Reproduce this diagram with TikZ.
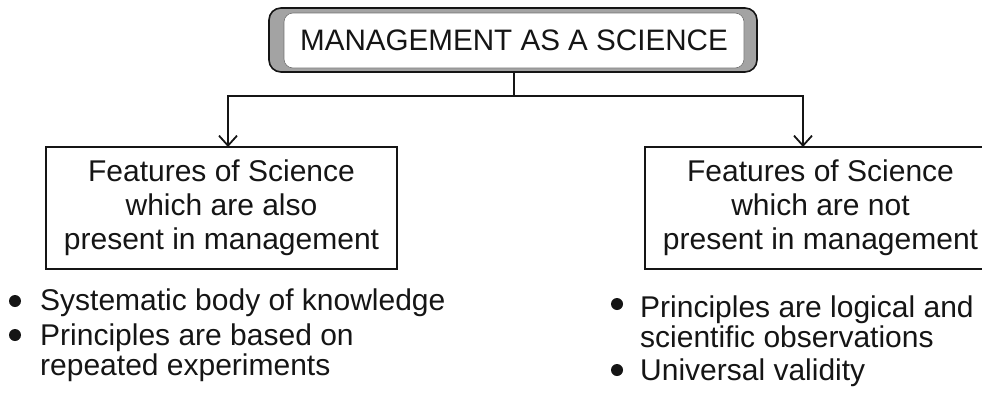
\documentclass[tikz,border=0pt]{standalone}
\usepackage{fontspec}
\setmainfont{Liberation Sans}
\usetikzlibrary{arrows.meta}
\definecolor{ink}{HTML}{151515}
\definecolor{frameg}{HTML}{A3A3A3}
\begin{document}
\begin{tikzpicture}[x=1pt,y=-1pt,
  line/.style={draw=ink,line width=1.5pt},
  arr/.style={line,-{Straight Barb[length=10pt,width=18pt,line width=1.8pt]}},
  featbox/.style={draw=ink,line width=1.5pt,minimum width=351pt,minimum height=122pt,inner sep=0pt,align=center,text=ink,font=\fontsize{30}{34}\selectfont},
  item/.style={anchor=base west,align=left,inner sep=0pt,text=ink,font=\fontsize{30}{30}\selectfont},
  bul/.style={circle,fill=ink,minimum size=12pt,inner sep=0pt}]
\useasboundingbox (0,0) rectangle (982,394);
% title
\node[draw=ink,line width=1.6pt,fill=frameg,rounded corners=12pt,minimum width=488pt,minimum height=64pt,inner sep=0pt] (frame) at (513,40) {};
\node[draw=frameg!70!black,line width=0.6pt,fill=white,rounded corners=9pt,minimum width=460pt,minimum height=55pt,inner sep=0pt,text=ink,font=\fontsize{29.6}{34}\selectfont] (title) at (514,40.5) {MANAGEMENT AS A SCIENCE};
% boxes
\node[featbox] (lbox) at (221.5,208) {Features of Science\\which are also\\present in management};
\node[featbox] (rbox) at (820.5,208) {Features of Science\\which are not\\present in management};
% connectors
\coordinate (jn) at (514,96);
\coordinate (lt) at (228,147);
\coordinate (rt) at (803,147);
\draw[line] (frame.south -| jn) -- (jn);
\draw[arr] (jn) -| (lt);
\draw[arr] (jn) -| (rt);
% bullets left
\node[bul] (b1) at (15,301) {};
\node[item] (t1) at (40,310) {Systematic body of knowledge};
\node[bul] (b2) at (15,335) {};
\node[item] (t2) at (40,375) {Principles are based on\\repeated experiments};
% bullets right
\node[bul] (b3) at (617,304) {};
\node[item] (t3) at (640,347) {Principles are logical and\\scientific observations};
\node[bul] (b4) at (617,370) {};
\node[item] (t4) at (640,380) {Universal validity};
\end{tikzpicture}
\end{document}
